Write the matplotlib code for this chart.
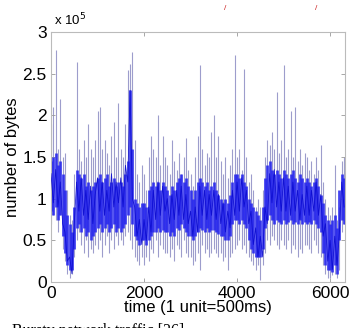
import numpy as np
import matplotlib
matplotlib.use('Agg')
import matplotlib.pyplot as plt

# traffic samples, one every 50 time units (values in units of 1e5 bytes)
time = np.arange(0, 6350, 50)

# light spikes: highest and lowest value in each 50-unit slot
peak = [1.9, 2.1, 2.78, 1.6, 2.2, 1.5, 1.55, 1.1, 0.8, 0.75,
        1.3, 2.64, 1.6, 1.45, 1.7, 1.5, 1.9, 1.6, 1.5, 1.7,
        2.05, 2.1, 1.6, 1.7, 1.55, 1.4, 1.75, 1.92, 1.5, 2.15,
        1.6, 1.5, 1.9, 2.55, 2.62, 2.76, 1.7, 1.3, 1.2, 1.4,
        1.3, 1.1, 1.5, 1.75, 1.6, 1.5, 2.0, 1.4, 1.75, 1.5,
        1.4, 1.3, 1.7, 1.45, 1.35, 1.55, 1.3, 1.5, 1.73, 1.35,
        1.3, 1.15, 1.5, 1.75, 2.6, 1.6, 1.4, 1.55, 1.5, 1.8,
        2.0, 1.5, 1.75, 1.45, 1.3, 1.5, 1.25, 1.4, 1.6, 2.72,
        1.5, 1.6, 1.35, 2.56, 1.5, 1.2, 1.3, 1.1, 0.9, 1.0,
        0.9, 1.1, 1.5, 1.7, 1.65, 1.8, 1.6, 2.28, 1.55, 1.7,
        2.6, 1.5, 1.6, 2.05, 1.5, 2.1, 1.45, 1.6, 1.4, 1.55,
        1.5, 1.35, 1.45, 1.3, 1.5, 1.35, 1.65, 1.2, 1.0, 0.9,
        0.8, 0.9, 1.4, 0.75, 0.9, 1.45, 1.5]

trough = [0.7, 0.8, 0.75, 0.6, 0.8, 0.4, 0.25, 0.1, 0.05, 0.1,
          0.3, 0.5, 0.6, 0.45, 0.35, 0.5, 0.3, 0.4, 0.35, 0.45,
          0.4, 0.5, 0.3, 0.45, 0.55, 0.35, 0.5, 0.4, 0.55, 0.45,
          0.5, 0.45, 0.55, 0.6, 0.5, 0.4, 0.3, 0.25, 0.2, 0.3,
          0.2, 0.3, 0.25, 0.4, 0.35, 0.5, 0.3, 0.45, 0.4, 0.35,
          0.35, 0.3, 0.4, 0.25, 0.45, 0.4, 0.3, 0.5, 0.35, 0.3,
          0.3, 0.2, 0.25, 0.35, 0.14, 0.45, 0.35, 0.4, 0.3, 0.35,
          0.4, 0.35, 0.3, 0.35, 0.25, 0.3, 0.14, 0.3, 0.35, 0.4,
          0.45, 0.5, 0.4, 0.45, 0.35, 0.3, 0.25, 0.2, 0.15, 0.2,
          0.02, 0.2, 0.35, 0.5, 0.45, 0.55, 0.5, 0.45, 0.4, 0.5,
          0.45, 0.4, 0.5, 0.35, 0.45, 0.4, 0.3, 0.4, 0.35, 0.45,
          0.45, 0.4, 0.35, 0.5, 0.45, 0.35, 0.3, 0.2, 0.1, 0.05,
          0.05, 0.08, 0.1, 0.05, 0.15, 0.6, 0.7]

# dense blue band: top and bottom of the bulk of the traffic
band_top = [1.45, 1.5, 1.55, 1.4, 1.45, 1.3, 1.1, 0.8, 0.7, 0.6,
            0.9, 1.35, 1.3, 1.25, 1.3, 1.15, 1.2, 1.1, 1.15, 1.2,
            1.25, 1.3, 1.2, 1.25, 1.3, 1.15, 1.2, 1.25, 1.15, 1.2,
            1.2, 1.15, 1.3, 1.45, 2.3, 1.6, 1.0, 0.95, 0.9, 0.95,
            0.95, 0.9, 1.1, 1.15, 1.2, 1.15, 1.2, 1.1, 1.2, 1.15,
            1.1, 1.05, 1.15, 1.1, 1.2, 1.25, 1.3, 1.2, 1.25, 1.15,
            1.1, 1.0, 1.1, 1.2, 1.25, 1.2, 1.15, 1.2, 1.1, 1.15,
            1.2, 1.1, 1.05, 1.0, 0.95, 1.0, 0.95, 1.05, 1.2, 1.3,
            1.3, 1.25, 1.3, 1.2, 1.15, 1.0, 0.95, 0.9, 0.85, 0.8,
            0.75, 0.9, 1.25, 1.4, 1.45, 1.35, 1.3, 1.35, 1.3, 1.25,
            1.35, 1.3, 1.25, 1.3, 1.35, 1.25, 1.2, 1.3, 1.25, 1.2,
            1.25, 1.2, 1.15, 1.2, 1.25, 1.15, 1.05, 0.95, 0.8, 0.75,
            0.7, 0.75, 0.8, 0.65, 1.1, 1.3, 1.25]

band_bot = [0.85, 0.8, 0.9, 0.75, 0.8, 0.55, 0.35, 0.2, 0.15, 0.15,
            0.4, 0.65, 0.7, 0.6, 0.65, 0.55, 0.6, 0.5, 0.55, 0.6,
            0.65, 0.7, 0.6, 0.65, 0.7, 0.6, 0.65, 0.7, 0.6, 0.65,
            0.6, 0.65, 0.7, 0.8, 0.9, 0.7, 0.55, 0.5, 0.45, 0.5,
            0.5, 0.45, 0.5, 0.55, 0.6, 0.6, 0.65, 0.6, 0.62, 0.6,
            0.6, 0.55, 0.6, 0.55, 0.65, 0.62, 0.7, 0.65, 0.6, 0.55,
            0.55, 0.5, 0.55, 0.6, 0.65, 0.62, 0.6, 0.65, 0.6, 0.62,
            0.62, 0.6, 0.58, 0.55, 0.55, 0.5, 0.5, 0.55, 0.7, 0.75,
            0.75, 0.7, 0.75, 0.7, 0.65, 0.5, 0.4, 0.35, 0.3, 0.3,
            0.3, 0.4, 0.65, 0.75, 0.8, 0.75, 0.7, 0.75, 0.72, 0.7,
            0.75, 0.7, 0.72, 0.75, 0.7, 0.72, 0.7, 0.75, 0.7, 0.72,
            0.7, 0.72, 0.7, 0.75, 0.7, 0.65, 0.6, 0.35, 0.2, 0.15,
            0.15, 0.12, 0.2, 0.1, 0.5, 0.75, 0.7]

# sample-to-sample wiggle inside the band
core = [1.3, 0.95, 1.35, 0.9, 1.2, 0.7, 0.6, 0.25, 0.3, 0.1,
        0.7, 1.2, 0.85, 1.25, 0.8, 1.1, 0.75, 1.15, 0.7, 1.05,
        1.25, 0.85, 1.2, 0.8, 1.1, 0.85, 1.3, 0.9, 1.2, 0.95,
        1.25, 0.9, 1.4, 1.2, 2.3, 1.0, 0.9, 0.55, 0.75, 0.45,
        0.75, 0.5, 0.9, 0.6, 1.1, 0.75, 1.2, 0.8, 1.15, 0.85,
        1.0, 0.7, 1.05, 0.75, 1.1, 0.8, 1.15, 0.75, 1.05, 0.7,
        0.85, 0.55, 0.9, 0.6, 1.15, 0.8, 1.1, 0.75, 1.05, 0.8,
        1.1, 0.75, 1.05, 0.7, 0.95, 0.6, 0.85, 0.65, 1.1, 0.8,
        1.2, 0.85, 1.25, 0.9, 1.1, 0.7, 0.85, 0.45, 0.65, 0.3,
        0.55, 0.3, 0.9, 0.7, 1.3, 0.95, 1.35, 0.9, 1.2, 0.85,
        1.25, 0.85, 1.15, 0.8, 1.2, 0.85, 1.1, 0.75, 1.05, 0.8,
        1.15, 0.8, 1.1, 0.85, 1.2, 0.8, 1.05, 0.55, 0.7, 0.25,
        0.5, 0.15, 0.55, 0.2, 0.6, 1.2, 0.9]

yticks = [0, 0.5, 1, 1.5, 2, 2.5, 3]
ytick_labels = ['0', '0.5', '1', '1.5', '2', '2.5', '3']
xticks = [0, 2000, 4000, 6000]

plt.rcParams['font.family'] = ['Liberation Sans', 'DejaVu Sans']

fig = plt.figure(figsize=(3.53, 3.28), dpi=100)
ax = fig.add_axes([0.1445, 0.1402, 0.8328, 0.7622])

ax.vlines(time, trough, peak, color='#8c8cc4', lw=0.8, alpha=0.85, zorder=1)
ax.vlines(time, band_bot, band_top, color='#2222ee', lw=2.0, alpha=0.85,
          zorder=2)
ax.plot(time, core, color='#0a0ad0', lw=0.6, alpha=0.9, zorder=3)

ax.set_xlim(0, 6320)
ax.set_ylim(0, 3)
ax.set_xticks(xticks)
ax.set_yticks(yticks)
ax.set_yticklabels(ytick_labels)
ax.tick_params(direction='in', length=3, width=0.6, color='#999999',
               labelsize=12.5, top=True, right=True, pad=3)
for s in ax.spines.values():
    s.set_color('#bbbbbb')
    s.set_linewidth(0.8)

ax.set_xlabel('time (1 unit=500ms)', fontsize=12, labelpad=-1)
ax.set_ylabel('number of bytes', fontsize=12, labelpad=1.5)
fig.text(0.152, 0.915, r'x 10$^5$', fontsize=9.5, ha='left', va='bottom')

# caption of the source figure, cut by the crop as in the original
fig.text(0.035, -0.022, 'Bursty network traffic [26]', family='Liberation Serif',
         fontsize=11.5, ha='left', va='baseline')
fig.text(0.638, 0.975, '/', color='#cc2222', fontsize=6, ha='center', va='center')
fig.text(0.895, 0.975, '/', color='#cc2222', fontsize=6, ha='center', va='center')

fig.savefig('out.png', dpi=100)
